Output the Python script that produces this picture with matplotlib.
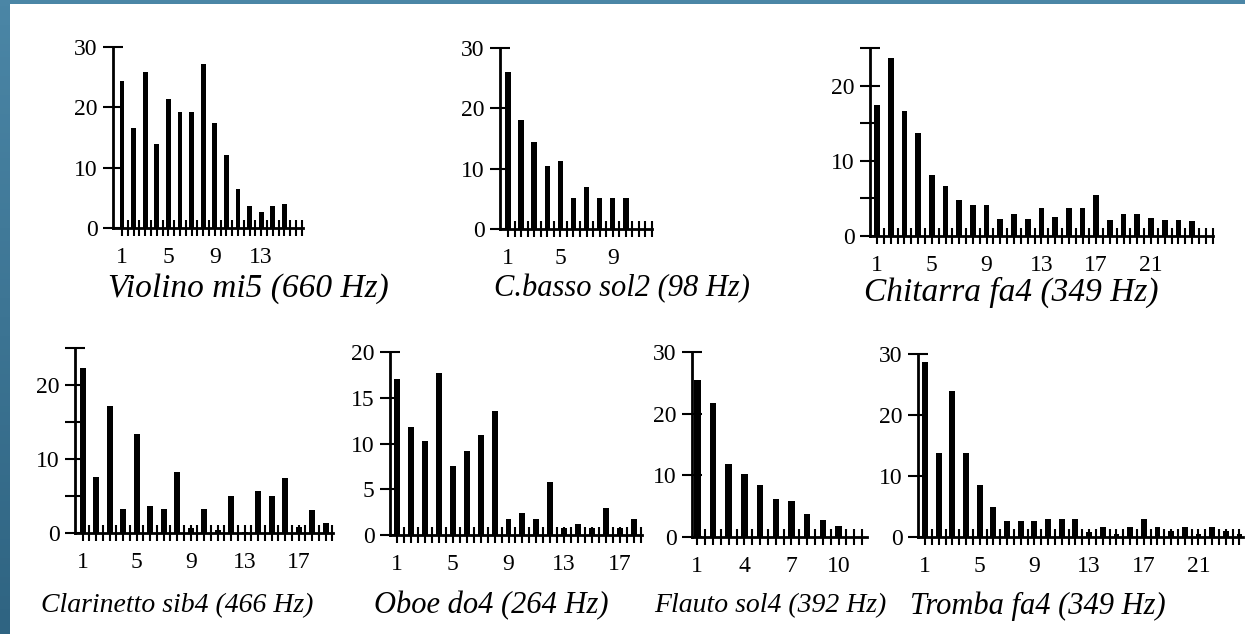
import numpy as np
import matplotlib.pyplot as plt
from matplotlib.colors import LinearSegmentedColormap

plt.rcParams['font.family'] = ['Liberation Serif', 'DejaVu Serif']

W, H = 1245, 634

# harmonic amplitudes
violino = [24.3, 16.6, 25.8, 14.0, 21.4, 19.2, 19.2, 27.1, 17.4, 12.1, 6.4, 3.6, 2.7, 3.6, 4.0]
cbasso = [26.0, 18.0, 14.5, 10.5, 11.3, 5.1, 6.9, 5.1, 5.1, 5.1]
chitarra = [17.4, 23.7, 16.6, 13.7, 8.1, 6.7, 4.8, 4.1, 4.1, 2.3, 2.9, 2.3,
            3.7, 2.5, 3.7, 3.7, 5.5, 2.1, 2.9, 2.9, 2.4, 2.1, 2.1, 2.0]
clarinetto = [22.3, 7.6, 17.2, 3.2, 13.4, 3.7, 3.2, 8.3, 0.7, 3.2, 0.4, 5.0,
              0.2, 5.7, 5.0, 7.5, 0.8, 3.1, 1.4]
oboe = [17.1, 11.8, 10.3, 17.7, 7.5, 9.2, 10.9, 13.5, 1.8, 2.4, 1.8, 5.8,
        0.8, 1.2, 0.8, 3.0, 0.8, 1.7]
flauto = [25.4, 21.7, 11.9, 10.2, 8.5, 6.2, 5.9, 3.7, 2.8, 1.8]
tromba = [28.7, 13.7, 24.0, 13.7, 8.5, 4.9, 2.7, 2.7, 2.6, 3.0, 3.0, 3.0,
          0.8, 1.6, 0.5, 1.6, 3.0, 1.6, 1.0, 1.6, 0.5, 1.6, 1.0, 0.5]

titles = ['Violino mi5 (660 Hz)', 'C.basso sol2 (98 Hz)', 'Chitarra fa4 (349 Hz)',
          'Clarinetto sib4 (466 Hz)', 'Oboe do4 (264 Hz)', 'Flauto sol4 (392 Hz)',
          'Tromba fa4 (349 Hz)']
series = [violino, cbasso, chitarra, clarinetto, oboe, flauto, tromba]
ymax = [30, 30, 25, 25, 20, 30, 30]
ylabels = [[0, 10, 20, 30], [0, 10, 20, 30], [0, 10, 20], [0, 10, 20],
           [0, 5, 10, 15, 20], [0, 10, 20, 30], [0, 10, 20, 30]]
yminor = [[], [], [5, 15, 25], [5, 15, 25], [], [], []]
xlabels = [[1, 5, 9, 13], [1, 5, 9], [1, 5, 9, 13, 17, 21], [1, 5, 9, 13, 17],
           [1, 5, 9, 13, 17], [1, 4, 7, 10], [1, 5, 9, 13, 17, 21]]

# pixel layout: axis x, axis right end, y of zero, y of top, x of harmonic 1, spacing
layout = [(113, 303, 228, 47, 122, 11.6),
          (500, 652, 229, 48, 508, 13.1),
          (870, 1213, 236, 48, 877, 13.7),
          (75, 333, 533, 348, 82.7, 13.5),
          (390, 642, 535, 352, 397.3, 13.9),
          (692, 867, 537, 352, 697.3, 15.7),
          (918, 1243, 537, 354, 925, 13.67)]
title_pos = [(248, 289), (622, 289), (1011, 292), (177, 606), (491, 606),
             (770, 606), (1038, 606)]
title_size = [24, 22, 24, 20, 22, 20, 22]

fig = plt.figure(figsize=(W / 100, H / 100), dpi=100)
fig.patch.set_facecolor('white')

# blue frame on the left and top
bg = fig.add_axes([0, 0, 10 / W, 1])
bg.imshow(np.linspace(0, 1, 100).reshape(-1, 1), aspect='auto',
          cmap=LinearSegmentedColormap.from_list('b', ['#4b86a6', '#2f6482']),
          extent=[0, 1, 0, 1])
bg.axis('off')
top = fig.add_axes([0, 1 - 4 / H, 1, 4 / H])
top.set_facecolor('#4b86a6')
top.set_xticks([]); top.set_yticks([])
for s in top.spines.values():
    s.set_visible(False)

for vals, ttl, ym, yl, ymn, xl, lay, tp, ts in zip(series, titles, ymax, ylabels, yminor,
                                                   xlabels, layout, title_pos, title_size):
    x0, x1, y0, y1, h1, sp = lay
    ax = fig.add_axes([x0 / W, 1 - y0 / H, (x1 - x0) / W, (y0 - y1) / H])
    harm = np.arange(1, len(vals) + 1)
    ax.bar(harm, vals, width=0.42, color='black')
    ax.set_xlim(1 - (h1 - x0) / sp, 1 + (x1 - h1) / sp)
    ax.set_ylim(0, ym)
    ax.set_facecolor('none')
    for s in ['top', 'right']:
        ax.spines[s].set_visible(False)
    for s in ['left', 'bottom']:
        ax.spines[s].set_linewidth(2)
    xt = np.arange(1, 1 + (x1 - h1) / sp + 0.01, 0.5)
    ax.set_xticks(xt)
    ax.set_xticklabels([str(int(v)) if (v == int(v) and int(v) in xl) else '' for v in xt])
    ax.tick_params(axis='x', direction='inout', length=11, width=1.5, pad=8, labelsize=17)
    ax.set_yticks(yl + [ym] if ym not in yl else yl)
    ax.set_yticklabels([str(v) for v in yl] + ([''] if ym not in yl else []))
    ax.set_yticks(ymn, minor=True)
    ax.tick_params(axis='y', which='both', direction='inout', length=14, width=1.5,
                   pad=4, labelsize=17)
    fig.text(tp[0] / W, 1 - tp[1] / H, ttl, ha='center', va='center',
             fontsize=ts, style='italic')

fig.savefig('out.png', dpi=100, facecolor='white')
